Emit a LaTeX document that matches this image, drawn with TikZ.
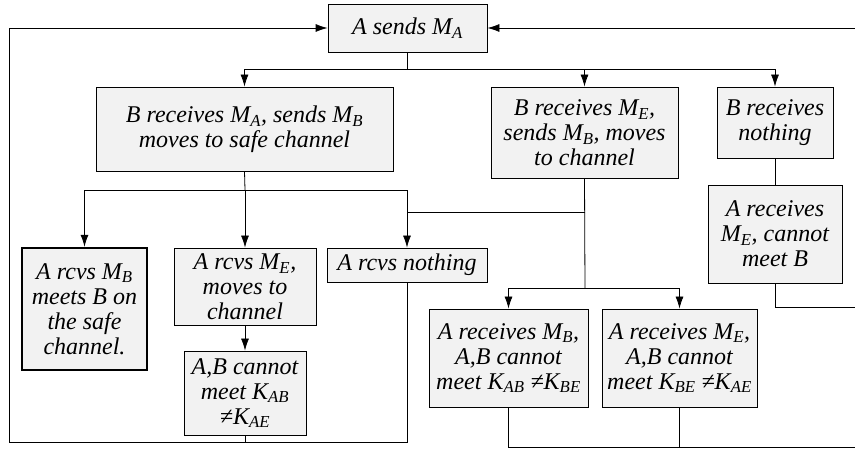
\documentclass[tikz,border=0pt]{standalone}
\usepackage{fontspec}
\setmainfont{Liberation Serif}
\usetikzlibrary{arrows.meta}
\newcommand{\sbs}[1]{\textsubscript{#1}}
\tikzset{
  box/.style={draw, fill=gray!10, line width=0.8pt, align=center, inner sep=0pt,
    font=\fontsize{24}{25}\selectfont\itshape},
  endbox/.style={box, line width=2.4pt},
  tip/.style={-{Latex[length=12pt,width=8pt]}},
}
\begin{document}
\begin{tikzpicture}[x=1pt, y=-1pt, line width=0.8pt]
  \useasboundingbox (0,0) rectangle (855,449);
  % ================= boxes =================
  \node[box, minimum width=159pt, minimum height=48pt] (send) at (407.5,28) {A sends M\sbs{A}};
  \node[box, minimum width=297pt, minimum height=84pt] (recvA) at (244.5,129)
    {B receives M\sbs{A}, sends M\sbs{B}\\moves to safe channel};
  \node[box, minimum width=187pt, minimum height=91pt] (recvE) at (584.5,132.5)
    {B receives M\sbs{E},\\sends M\sbs{B}, moves\\to channel};
  \node[box, minimum width=116pt, minimum height=71pt] (recvN) at (775,122.5)
    {B receives\\nothing};
  \node[box, minimum width=134pt, minimum height=98pt] (failB) at (775,234)
    {A receives\\M\sbs{E}, cannot\\meet B};
  \node[endbox, minimum width=125pt, minimum height=122pt] (meet) at (84.5,309)
    {A rcvs M\sbs{B}\\meets B on\\the safe\\channel.};
  \node[box, minimum width=142pt, minimum height=77pt] (rcvsE) at (245,286.5)
    {A rcvs M\sbs{E},\\moves to\\channel};
  \node[box, minimum width=122pt, minimum height=84pt] (noAE) at (245,393)
    {A,B cannot\\meet K\sbs{AB}\\≠K\sbs{AE}};
  \node[box, minimum width=160pt, minimum height=34pt] (rcvsN) at (407,265)
    {A rcvs nothing};
  \node[box, minimum width=159pt, minimum height=98pt] (noBE) at (508.5,358)
    {A receives M\sbs{B},\\A,B cannot\\meet K\sbs{AB} ≠K\sbs{BE}};
  \node[box, minimum width=155pt, minimum height=98pt] (noEA) at (679.5,358)
    {A receives M\sbs{E},\\A,B cannot\\meet K\sbs{BE} ≠K\sbs{AE}};

  % ================= junctions =================
  \coordinate (split) at (407.5,69);
  \coordinate (splitA) at (245,190);
  \coordinate (joinE) at (585,212);
  \coordinate (splitE) at (585,288);
  \coordinate (loopL) at (9,442);
  \coordinate (loopT) at (855,28);
  \coordinate (loopN) at (855,307);
  \coordinate (loopR) at (855,447);

  % ================= connectors =================
  \draw (send.south) -- (split);
  \draw[tip] (split) -| (recvA.north);
  \draw[tip] (split) -| (recvE.north);
  \draw[tip] (split) -| (recvN.north);

  \draw (recvA.south) -- (splitA);
  \draw[tip] (splitA) -| (meet.north);
  \draw[tip] (splitA) -- (rcvsE.north);
  \draw[tip] (splitA) -| (rcvsN.north);
  \draw[tip] (rcvsE.south) -- (noAE.north);

  \draw (recvE.south) -- (splitE);
  \draw (joinE) -- (joinE -| rcvsN.north);
  \draw[tip] (splitE) -| (noBE.north);
  \draw[tip] (splitE) -| (noEA.north);

  \draw (recvN.south) -- (failB.north);
  \draw (failB.south) |- (loopN);

  % back to the start
  \draw[tip] (rcvsN.south) |- (loopL) |- (send.west);
  \draw (noAE.south) -- (noAE.south |- loopL);
  \draw (noBE.south) |- (loopR);
  \draw (noEA.south) -- (noEA.south |- loopR);
  \draw[tip] (loopT) -- (send.east);
\end{tikzpicture}
\end{document}
